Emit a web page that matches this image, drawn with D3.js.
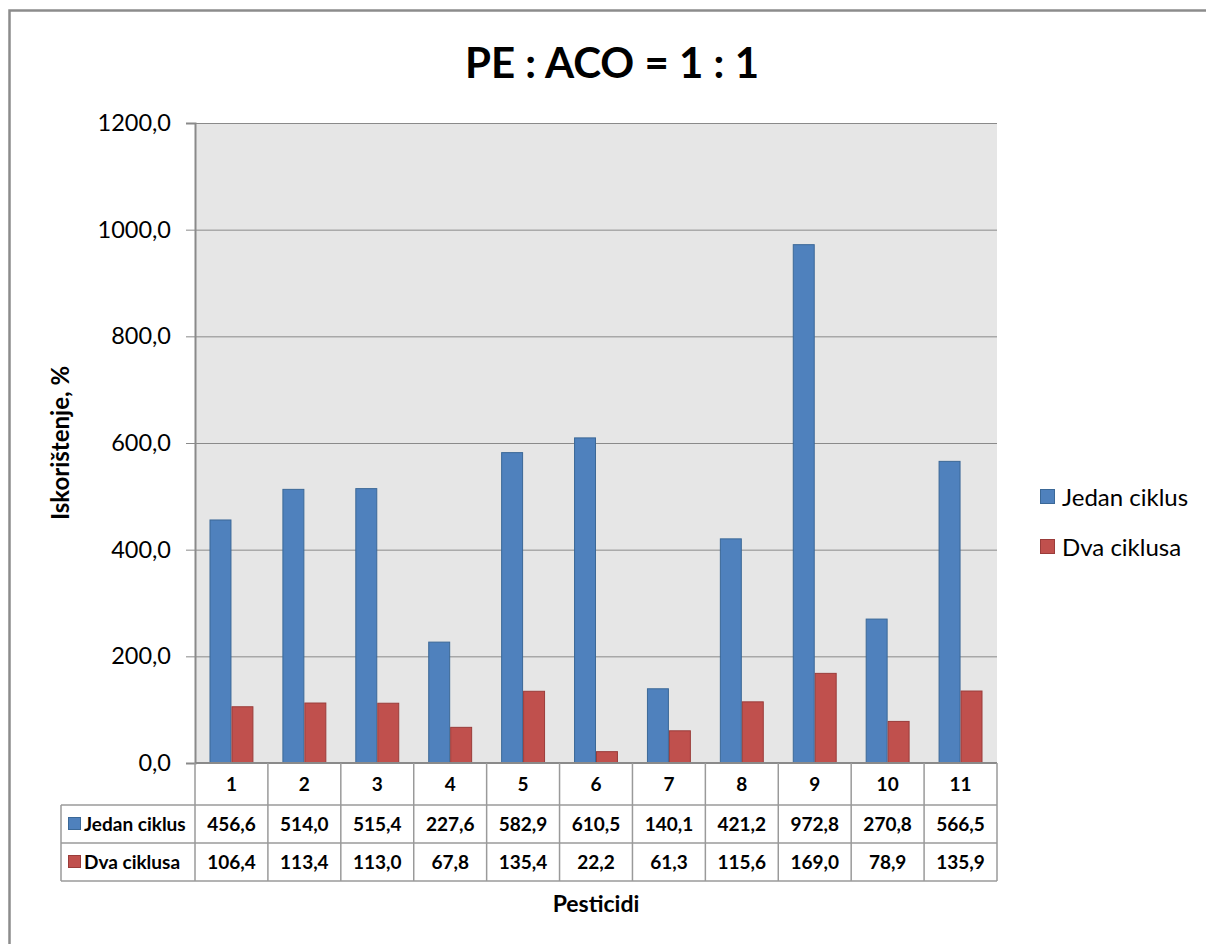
<!DOCTYPE html>
<html>
<head>
<meta charset="utf-8">
<script src="https://cdn.jsdelivr.net/npm/d3@7"></script>
<style>
  body { margin: 0; background: #fff; }
  svg { display: block; }
</style>
</head>
<body>
<svg id="chart" width="1206" height="944"></svg>
<script>
const categories = ["1", "2", "3", "4", "5", "6", "7", "8", "9", "10", "11"]
const seriesNames = ["Jedan ciklus", "Dva ciklusa"]
const jedanCiklus = [456.6, 514.0, 515.4, 227.6, 582.9, 610.5, 140.1, 421.2, 972.8, 270.8, 566.5]
const dvaCiklusa = [106.4, 113.4, 113.0, 67.8, 135.4, 22.2, 61.3, 115.6, 169.0, 78.9, 135.9]
const yTicks = [0, 200, 400, 600, 800, 1000, 1200]

const colors = ["#4F81BD", "#C0504D"]
const strokes = ["#3B6897", "#9A3C3A"]
const font = "Lato, 'Open Sans', sans-serif"

const svg = d3.select("#chart")

const plot = { left: 195, right: 997, top: 123, bottom: 763 }

// outer frame
svg.append("rect")
    .attr("x", 9.5).attr("y", 10.5)
    .attr("width", 1220).attr("height", 960)
    .attr("fill", "none")
    .attr("stroke", "#8c8c8c")
    .attr("stroke-width", 2.5)

const x = d3.scaleBand()
    .domain(categories)
    .range([plot.left, plot.right])

const y = d3.scaleLinear()
    .domain([0, 1200])
    .range([plot.bottom, plot.top])

const fmt = v => d3.format(".1f")(v).replace(".", ",")

// plot background
svg.append("rect")
    .attr("x", plot.left).attr("y", plot.top)
    .attr("width", plot.right - plot.left)
    .attr("height", plot.bottom - plot.top)
    .attr("fill", "#e6e6e6")

// gridlines
svg.append("g")
    .selectAll("line")
    .data(yTicks.filter(d => d > 0))
    .enter().append("line")
    .attr("x1", plot.left).attr("x2", plot.right)
    .attr("y1", d => y(d) + 0.5).attr("y2", d => y(d) + 0.5)
    .attr("stroke", "#8a8a8a")
    .attr("stroke-width", 1)

// y axis
const yAxis = svg.append("g")
    .attr("transform", `translate(${plot.left},0)`)
    .call(d3.axisLeft(y).tickValues(yTicks).tickFormat(fmt).tickSize(9).tickPadding(15))
yAxis.select(".domain").attr("stroke", "#8a8a8a").attr("stroke-width", 2)
yAxis.selectAll(".tick line").attr("stroke", "#8a8a8a")
yAxis.selectAll("text")
    .attr("font-family", font)
    .attr("font-size", 23.5)
    .attr("fill", "#000")

// bars
const inner = d3.scaleBand()
    .domain(seriesNames)
    .range([0, x.bandwidth()])
    .paddingInner(0)
    .paddingOuter(0.66)

const seriesData = [jedanCiklus, dvaCiklusa]

seriesNames.forEach((name, si) => {
    svg.append("g")
        .selectAll("rect")
        .data(seriesData[si])
        .enter().append("rect")
        .attr("x", (d, i) => x(categories[i]) + inner(name) + 0.5)
        .attr("y", d => y(d) + 0.5)
        .attr("width", inner.bandwidth() - 1)
        .attr("height", d => y(0) - y(d) - 0.5)
        .attr("fill", colors[si])
        .attr("stroke", strokes[si])
        .attr("stroke-width", 1)
})

// data table
const table = { left: 61, rows: [763, 805, 843, 881] }
const grid = svg.append("g").attr("stroke", "#9a9a9a").attr("stroke-width", 1.5)

// horizontal lines
grid.append("line")
    .attr("x1", plot.left).attr("x2", plot.right)
    .attr("y1", table.rows[0]).attr("y2", table.rows[0])
    .attr("stroke", "#8a8a8a").attr("stroke-width", 2)
table.rows.slice(1).forEach(r => {
    grid.append("line")
        .attr("x1", table.left).attr("x2", plot.right)
        .attr("y1", r).attr("y2", r)
})
// vertical lines
grid.append("line")
    .attr("x1", table.left).attr("x2", table.left)
    .attr("y1", table.rows[1]).attr("y2", table.rows[3])
categories.forEach(c => {
    grid.append("line")
        .attr("x1", x(c)).attr("x2", x(c))
        .attr("y1", table.rows[0]).attr("y2", table.rows[3])
})
grid.append("line")
    .attr("x1", plot.right).attr("x2", plot.right)
    .attr("y1", table.rows[0]).attr("y2", table.rows[3])

// header numbers
svg.append("g")
    .selectAll("text")
    .data(categories)
    .enter().append("text")
    .attr("x", d => x(d) + x.bandwidth() / 2)
    .attr("y", (table.rows[0] + table.rows[1]) / 2)
    .attr("dy", "0.36em")
    .attr("text-anchor", "middle")
    .attr("font-family", font)
    .attr("font-weight", "bold")
    .attr("font-size", 19)
    .text(d => d)

seriesNames.forEach((name, si) => {
    const cy = (table.rows[si + 1] + table.rows[si + 2]) / 2
    svg.append("rect")
        .attr("x", 68.5).attr("y", cy - 6.5)
        .attr("width", 12).attr("height", 12)
        .attr("fill", colors[si])
        .attr("stroke", strokes[si])
    svg.append("text")
        .attr("x", 84).attr("y", cy)
        .attr("dy", "0.36em")
        .attr("font-family", font)
        .attr("font-weight", "bold")
        .attr("font-size", 19)
        .text(name)
    svg.append("g")
        .selectAll("text")
        .data(seriesData[si])
        .enter().append("text")
        .attr("x", (d, i) => x(categories[i]) + x.bandwidth() / 2)
        .attr("y", cy)
        .attr("dy", "0.36em")
        .attr("text-anchor", "middle")
        .attr("font-family", font)
        .attr("font-weight", "bold")
        .attr("font-size", 19)
        .text(fmt)
})

// title
svg.append("text")
    .attr("x", 612).attr("y", 78)
    .attr("text-anchor", "middle")
    .attr("font-family", font)
    .attr("font-weight", "bold")
    .attr("font-size", 42)
    .text("PE : ACO = 1 : 1")

// axis titles
svg.append("text")
    .attr("x", (plot.left + plot.right) / 2).attr("y", 912)
    .attr("text-anchor", "middle")
    .attr("font-family", font)
    .attr("font-weight", "bold")
    .attr("font-size", 23)
    .text("Pesticidi")

svg.append("text")
    .attr("transform", `translate(69,${(plot.top + plot.bottom) / 2}) rotate(-90)`)
    .attr("text-anchor", "middle")
    .attr("font-family", font)
    .attr("font-weight", "bold")
    .attr("font-size", 24)
    .text("Iskorištenje, %")

// legend
const legend = svg.append("g")
seriesNames.forEach((name, si) => {
    const ly = 497 + si * 50
    legend.append("rect")
        .attr("x", 1040.5).attr("y", ly - 7.5)
        .attr("width", 14).attr("height", 14)
        .attr("fill", colors[si])
        .attr("stroke", strokes[si])
    legend.append("text")
        .attr("x", 1062).attr("y", ly)
        .attr("dy", "0.36em")
        .attr("font-family", font)
        .attr("font-size", 24)
        .text(name)
})
</script>
</body>
</html>
